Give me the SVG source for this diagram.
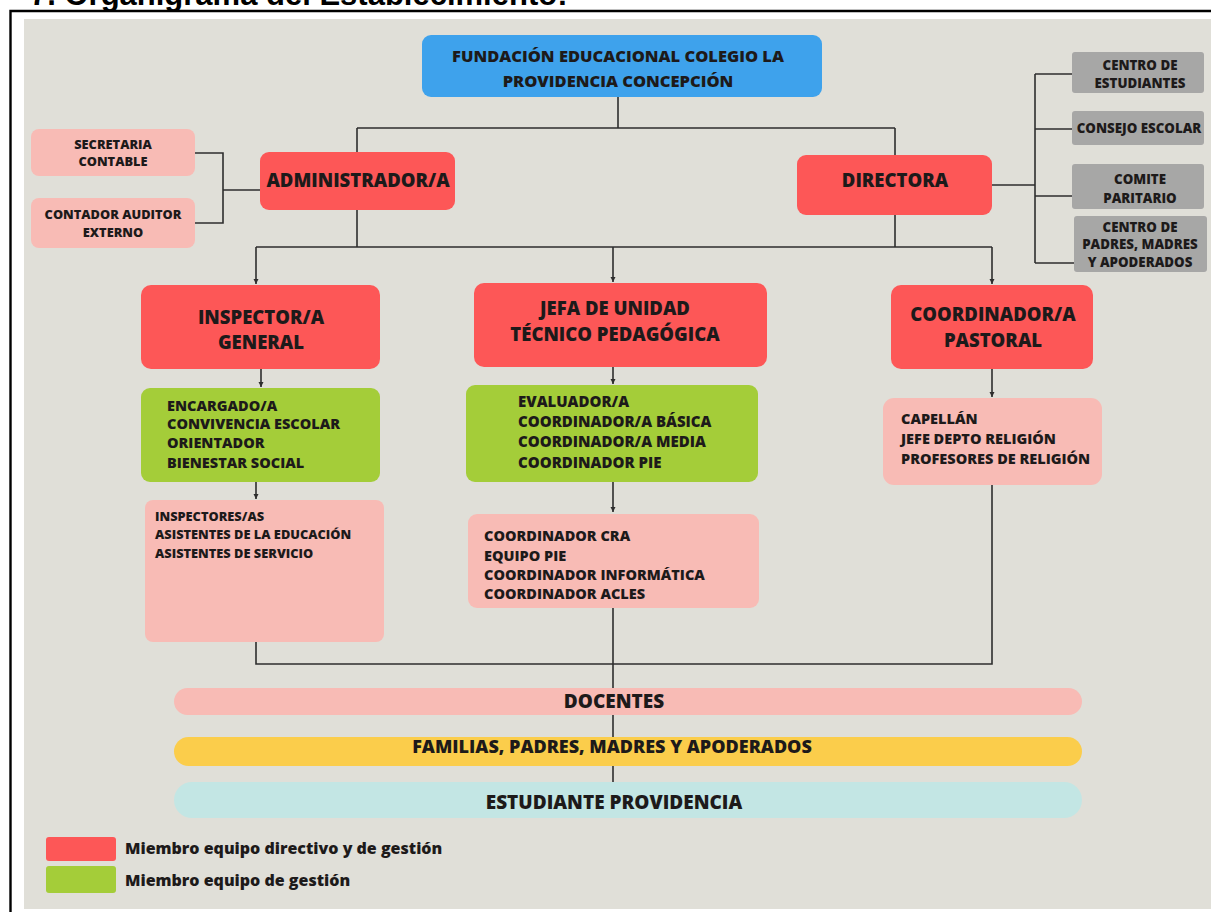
<svg xmlns="http://www.w3.org/2000/svg" width="1211" height="912" viewBox="0 0 1211 912">
<style>
.t{font-family:"Open Sans","Noto Sans","Liberation Sans",sans-serif;font-weight:800;fill:#1d1a1a}
.c{text-anchor:middle}
.red{fill:#fd5757}
.grn{fill:#a4cd39}
.pnk{fill:#f8bbb5}
.gry{fill:#a7a7a6}
.ln{fill:none;stroke:#2e2e2e;stroke-width:1.6}
.h1{font-size:18.5px}
.h2{font-size:14.5px}
.s{font-size:12.8px}
.g{font-size:13.3px}
.bar{font-size:19px}
</style>
<defs>
<marker id="ah" markerWidth="6" markerHeight="6" refX="5" refY="3" orient="auto" markerUnits="userSpaceOnUse">
<path d="M0,0.5 L5,3 L0,5.5 Z" fill="#2e2e2e"/>
</marker>
</defs>
<rect x="0" y="0" width="1211" height="912" fill="#ffffff"/>
<text x="30" y="5" style="font-family:'Liberation Sans',Arial,sans-serif;font-weight:bold;font-size:31px;fill:#000">7. Organigrama del Establecimiento:</text>
<rect x="24" y="19" width="1187" height="890" fill="#e0dfd8"/>
<path d="M10.5,912 V11 H1211" fill="none" stroke="#000" stroke-width="2.4"/>

<g id="connectors">
<path class="ln" d="M618,97 V128 M357,128 H895 M357,128 V152 M895,128 V155"/>
<path class="ln" d="M195,153 H223 V223 H195 M223,190 H261"/>
<path class="ln" d="M357,210 V247 M895,215 V247 M256,247 H992"/>
<path class="ln" d="M256,247 V284" marker-end="url(#ah)"/>
<path class="ln" d="M613,247 V282" marker-end="url(#ah)"/>
<path class="ln" d="M992,247 V284" marker-end="url(#ah)"/>
<path class="ln" d="M992,185 H1035 M1035,74 V263 M1035,74 H1072 M1035,129 H1072 M1035,196 H1072 M1035,263 H1074"/>
<path class="ln" d="M261,369 V387" marker-end="url(#ah)"/>
<path class="ln" d="M256,482 V499" marker-end="url(#ah)"/>
<path class="ln" d="M256,642 V664 H992 V485"/>
<path class="ln" d="M613,367 V384" marker-end="url(#ah)"/>
<path class="ln" d="M613,482 V512" marker-end="url(#ah)"/>
<path class="ln" d="M613,608 V782"/>
<path class="ln" d="M992,369 V397" marker-end="url(#ah)"/>
</g>

<g id="fundacion">
<rect x="422" y="35" width="400" height="62" rx="9" fill="#3ea2ec"/>
<text class="t c" x="618" y="62" style="font-size:16.5px">FUNDACIÓN EDUCACIONAL COLEGIO LA</text>
<text class="t c" x="618" y="87" style="font-size:16.5px">PROVIDENCIA CONCEPCIÓN</text>
</g>

<g id="secretaria">
<rect class="pnk" x="31" y="129" width="164" height="47" rx="8"/>
<text class="t c s" x="113" y="149">SECRETARIA</text>
<text class="t c s" x="113" y="166">CONTABLE</text>
</g>
<g id="contador">
<rect class="pnk" x="31" y="198" width="164" height="50" rx="8"/>
<text class="t c s" x="113" y="219">CONTADOR AUDITOR</text>
<text class="t c s" x="113" y="237">EXTERNO</text>
</g>

<g id="administrador">
<rect class="red" x="260" y="152" width="195" height="58" rx="9"/>
<text class="t c h1" x="358" y="187">ADMINISTRADOR/A</text>
</g>

<g id="directora">
<rect class="red" x="797" y="155" width="195" height="60" rx="9"/>
<text class="t c h1" x="895" y="187">DIRECTORA</text>
</g>

<g id="centro-estudiantes">
<rect class="gry" x="1072" y="52" width="132" height="41" rx="3"/>
<text class="t c g" x="1140" y="70">CENTRO DE</text>
<text class="t c g" x="1140" y="88">ESTUDIANTES</text>
</g>
<g id="consejo-escolar">
<rect class="gry" x="1072" y="111" width="132" height="34" rx="3"/>
<text class="t c g" x="1139" y="133">CONSEJO ESCOLAR</text>
</g>
<g id="comite-paritario">
<rect class="gry" x="1072" y="164" width="132" height="45" rx="3"/>
<text class="t c g" x="1140" y="184">COMITE</text>
<text class="t c g" x="1140" y="203">PARITARIO</text>
</g>
<g id="centro-padres">
<rect class="gry" x="1074" y="216" width="133" height="56" rx="3"/>
<text class="t c g" x="1140" y="232">CENTRO DE</text>
<text class="t c g" x="1140" y="249">PADRES, MADRES</text>
<text class="t c g" x="1140" y="267">Y APODERADOS</text>
</g>

<g id="inspector">
<rect class="red" x="141" y="285" width="239" height="84" rx="10"/>
<text class="t c h1" x="261" y="324">INSPECTOR/A</text>
<text class="t c h1" x="261" y="349">GENERAL</text>
</g>
<g id="inspector-gestion">
<rect class="grn" x="141" y="388" width="239" height="94" rx="9"/>
<text class="t h2" x="167" y="411">ENCARGADO/A</text>
<text class="t h2" x="167" y="429">CONVIVENCIA ESCOLAR</text>
<text class="t h2" x="167" y="448">ORIENTADOR</text>
<text class="t h2" x="167" y="468">BIENESTAR SOCIAL</text>
</g>
<g id="inspector-equipo">
<rect class="pnk" x="145" y="500" width="239" height="142" rx="8"/>
<text class="t s" x="155" y="521">INSPECTORES/AS</text>
<text class="t s" x="155" y="539">ASISTENTES DE LA EDUCACIÓN</text>
<text class="t s" x="155" y="558">ASISTENTES DE SERVICIO</text>
</g>

<g id="jefa-utp">
<rect class="red" x="474" y="283" width="293" height="84" rx="10"/>
<text class="t c h1" x="615" y="315">JEFA DE UNIDAD</text>
<text class="t c h1" x="615" y="341">TÉCNICO PEDAGÓGICA</text>
</g>
<g id="utp-gestion">
<rect class="grn" x="466" y="385" width="292" height="97" rx="9"/>
<text class="t" x="518" y="407" style="font-size:15px">EVALUADOR/A</text>
<text class="t" x="518" y="427" style="font-size:15px">COORDINADOR/A BÁSICA</text>
<text class="t" x="518" y="447" style="font-size:15px">COORDINADOR/A MEDIA</text>
<text class="t" x="518" y="468" style="font-size:15px">COORDINADOR PIE</text>
</g>
<g id="utp-equipo">
<rect class="pnk" x="468" y="514" width="291" height="94" rx="9"/>
<text class="t h2" x="484" y="541">COORDINADOR CRA</text>
<text class="t h2" x="484" y="561">EQUIPO PIE</text>
<text class="t h2" x="484" y="580">COORDINADOR INFORMÁTICA</text>
<text class="t h2" x="484" y="599">COORDINADOR ACLES</text>
</g>

<g id="pastoral">
<rect class="red" x="891" y="285" width="202" height="84" rx="10"/>
<text class="t c h1" x="993" y="321">COORDINADOR/A</text>
<text class="t c h1" x="993" y="347">PASTORAL</text>
</g>
<g id="pastoral-equipo">
<rect class="pnk" x="883" y="398" width="219" height="87" rx="11"/>
<text class="t h2" x="901" y="424">CAPELLÁN</text>
<text class="t h2" x="901" y="444">JEFE DEPTO RELIGIÓN</text>
<text class="t h2" x="901" y="464">PROFESORES DE RELIGIÓN</text>
</g>

<g id="docentes">
<rect class="pnk" x="174" y="688" width="908" height="27" rx="13.5"/>
<text class="t c bar" x="614" y="708">DOCENTES</text>
</g>
<g id="familias">
<rect x="174" y="737" width="908" height="29" rx="14.5" fill="#fbcd4b"/>
<text class="t c bar" x="612" y="753" style="font-size:18px">FAMILIAS, PADRES, MADRES Y APODERADOS</text>
</g>
<g id="estudiante">
<rect x="174" y="782" width="908" height="36" rx="18" fill="#c3e6e4"/>
<text class="t c bar" x="614" y="809">ESTUDIANTE PROVIDENCIA</text>
</g>

<g id="legend">
<rect class="red" x="46" y="837" width="70" height="24" rx="3"/>
<text class="t" x="125" y="854" style="font-size:16px">Miembro equipo directivo y de gestión</text>
<rect class="grn" x="46" y="866" width="70" height="27" rx="3"/>
<text class="t" x="125" y="886" style="font-size:16px">Miembro equipo de gestión</text>
</g>
</svg>
